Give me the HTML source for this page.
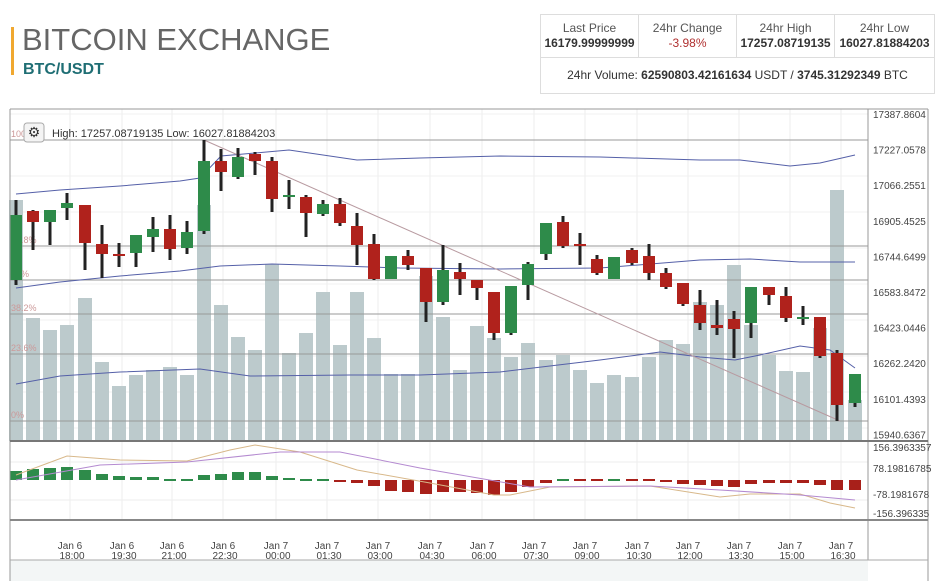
<!DOCTYPE html><html><head><meta charset="utf-8"><style>
body{margin:0;background:#fff;font-family:"Liberation Sans",sans-serif;}
#wrap{position:relative;width:943px;height:581px;overflow:hidden;background:#fff}
.t{position:absolute}
table{border-collapse:collapse;position:absolute;left:540px;top:14px;width:395px;font-size:12px;color:#333}
td{border:1px solid #ddd;text-align:center;padding:0;height:42px;line-height:15px}
</style></head><body><div id="wrap">
<div class="t" style="left:11px;top:27px;width:3px;height:48px;background:#f0a830"></div>
<div class="t" style="left:22px;top:22px;font-size:31px;color:#666;letter-spacing:0px">BITCOIN EXCHANGE</div>
<div class="t" style="left:23px;top:61px;font-size:16px;color:#1f6e74;font-weight:bold">BTC/USDT</div>
<table><tr><td style="width:97px"><span style="color:#555">Last Price</span><br><b>16179.99999999</b></td><td style="width:97px"><span style="color:#555">24hr Change</span><br><span style="color:#b03030">-3.98%</span></td><td style="width:97px"><span style="color:#555">24hr High</span><br><b>17257.08719135</b></td><td><span style="color:#555">24hr Low</span><br><b>16027.81884203</b></td></tr>
<tr><td colspan="4" style="height:35px">24hr Volume: <b>62590803.42161634</b> USDT / <b>3745.31292349</b> BTC</td></tr></table>
<svg id="s" class="t" style="left:0;top:0" width="943" height="581" xmlns="http://www.w3.org/2000/svg"></svg>
</div>
<script>
var S=document.getElementById('s'),h='';
function L(x1,y1,x2,y2,c,w){h+='<line x1="'+x1+'" y1="'+y1+'" x2="'+x2+'" y2="'+y2+'" stroke="'+c+'" stroke-width="'+(w||1)+'"/>';}
function R(x,y,w,hh,c){h+='<rect x="'+x+'" y="'+y+'" width="'+w+'" height="'+hh+'" fill="'+c+'"/>';}
function T(x,y,s,c,sz,a){h+='<text x="'+x+'" y="'+y+'" fill="'+c+'" font-size="'+(sz||10)+'" font-family="Liberation Sans,sans-serif"'+(a?' text-anchor="'+a+'"':'')+'>'+s+'</text>';}
function P(pts,c,w){h+='<polyline fill="none" stroke="'+c+'" stroke-width="'+(w||1)+'" points="'+pts+'"/>';}
R(10,560,858,21,'#f3f6f6');
var tx=[70,122,172,223,276,327,378,430,482,534,585,637,688,739,790,841];
tx.forEach(function(x){L(x,109,x,520,'#eee');});
[114,140,176,212,248,284,320,356,392,428].forEach(function(y){L(10,y,868,y,'#f0f0f0');});
[462,500].forEach(function(y){L(10,y,868,y,'#eee');});
var vol=[[16,200],[33,318],[50,330],[67,325],[85,298],[102,362],[119,386],[136,375],[153,370],[170,367],[187,375],[204,205],[221,305],[238,337],[255,350],[272,264],[289,353],[306,333],[323,292],[340,345],[357,292],[374,338],[391,374],[408,374],[426,276],[443,317],[460,370],[477,326],[494,338],[511,357],[528,343],[546,360],[563,355],[580,370],[597,383],[614,375],[632,377],[649,357],[666,340],[683,344],[700,302],[717,305],[734,265],[751,325],[769,355],[786,371],[803,372],[820,328],[837,190],[855,400]];
vol.forEach(function(v){R(v[0]-7,v[1],14,441-v[1],'#bccacc');});
[[140,'100%'],[246,'61.8%'],[280,'50%'],[314,'38.2%'],[354,'23.6%'],[421,'0%']].forEach(function(f){L(10,f[0],868,f[0],'#999');T(11,f[0]-3,f[1],'#c99',9);});
P('16,194 60,190 120,186 180,181 200,178 221,156 289,150 357,160 420,158 500,156 600,157 700,160 740,160 790,166 820,163 855,155','#5560a8');
P('16,288 60,282 120,276 180,271 220,266 272,264 340,266 400,268 500,269 600,268 700,260 750,259 800,262 855,262','#5560a8');
P('16,384 60,376 120,372 200,369 250,376 350,375 420,375 500,372 600,360 660,352 700,357 735,360 760,355 800,346 830,350 855,368','#5560a8');
L(204,140,840,421,'#b89aa0');
var c=[[16,'g',215,280,200,285],[33,'r',211,222,210,250],[50,'g',210,222,210,245],[67,'g',203,208,193,220],[85,'r',205,243,205,270],[102,'r',244,254,225,278],[119,'r',254,256,243,267],[136,'g',235,253,235,267],[153,'g',229,237,217,252],[170,'r',229,249,215,260],[187,'g',232,248,221,254],[204,'g',161,231,140,234],[221,'r',161,172,149,191],[238,'g',157,177,148,179],[255,'r',154,161,152,175],[272,'r',161,199,157,212],[289,'g',195,197,180,209],[306,'r',197,213,195,237],[323,'g',204,214,200,216],[340,'r',204,223,198,226],[357,'r',226,245,213,265],[374,'r',244,279,234,280],[391,'g',256,279,256,279],[408,'r',256,265,250,270],[426,'r',268,302,268,322],[443,'g',270,302,245,305],[460,'r',272,279,263,295],[477,'r',280,288,280,300],[494,'r',292,333,292,340],[511,'g',286,333,286,335],[528,'g',264,285,262,300],[546,'g',223,254,223,260],[563,'r',222,246,216,248],[580,'r',244,246,233,265],[597,'r',259,273,255,275],[614,'g',257,279,257,279],[632,'r',250,263,248,265],[649,'r',256,273,244,280],[666,'r',273,287,268,289],[683,'r',283,304,283,306],[700,'r',305,323,290,330],[717,'r',325,328,300,335],[734,'r',319,329,311,358],[751,'g',287,323,287,338],[769,'r',287,295,287,305],[786,'r',296,318,287,322],[803,'g',317,319,306,325],[820,'r',317,356,317,358],[837,'r',353,405,350,421],[855,'g',374,403,374,407]];
c.forEach(function(k){L(k[0],k[4],k[0],k[5],'#222',3);R(k[0]-6,k[2],12,Math.max(2,k[3]-k[2]),k[1]=='g'?'#2e8b4a':'#b0221c');});
var m=[[16,471],[33,469],[50,468],[67,467],[85,470],[102,474],[119,476],[136,477],[153,477],[170,479],[187,479],[204,475],[221,474],[238,472],[255,472],[272,476],[289,478],[306,480],[323,480],[340,482],[357,483],[374,486],[391,491],[408,492],[426,494],[443,492],[460,492],[477,493],[494,495],[511,492],[528,487],[546,483],[563,480],[580,481],[597,481],[614,480],[632,481],[649,481],[666,482],[683,484],[700,485],[717,486],[734,487],[751,484],[769,483],[786,483],[803,483],[820,485],[837,490],[855,490]];
m.forEach(function(v){var y0=Math.min(v[1],480),y1=Math.max(v[1],480);if(y1-y0<2){y0=479;y1=481;}R(v[0]-6,y0,12,y1-y0,v[1]<=480?'#2e8b4a':'#a8201a');});
P('16,475 67,456 120,460 187,461 230,450 255,445 300,452 357,470 430,483 494,495 510,495 550,487 650,486 720,497 750,494 800,494 830,503 855,508','#d8b88a');
P('16,480 100,465 187,462 280,452 340,452 420,468 530,487 650,486 720,490 800,495 855,500','#b48ad0');
L(10,109,928,109,'#999');L(10,109,10,581,'#999');L(868,109,868,560,'#999');L(928,109,928,581,'#999');
L(10,441,928,441,'#777',2);L(10,520,928,520,'#888',2);L(10,560,928,560,'#aaa');
var pl=['17387.8604','17227.0578','17066.2551','16905.4525','16744.6499','16583.8472','16423.0446','16262.2420','16101.4393','15940.6367'];
pl.forEach(function(s,i){T(873,118+i*35.6,s,'#444',10);});
T(873,451,'156.3963357','#444',10);T(873,472,'78.19816785','#444',10);T(873,498,'-78.1981678','#444',10);T(873,517,'-156.396335','#444',10);
var lb=['Jan 6|18:00','Jan 6|19:30','Jan 6|21:00','Jan 6|22:30','Jan 7|00:00','Jan 7|01:30','Jan 7|03:00','Jan 7|04:30','Jan 7|06:00','Jan 7|07:30','Jan 7|09:00','Jan 7|10:30','Jan 7|12:00','Jan 7|13:30','Jan 7|15:00','Jan 7|16:30'];
lb.forEach(function(s,i){var p=s.split('|');T(tx[i],549,p[0],'#444',10,'middle');T(tx[i]+2,559,p[1],'#444',10,'middle');});
h+='<rect x="24" y="123" width="20" height="19" rx="3" fill="#f4f4f4" stroke="#aaa"/>';
T(34,137,'⚙','#333',14,'middle');
T(52,137,'High: 17257.08719135  Low: 16027.81884203','#333',11);
S.innerHTML=h;
</script></body></html>
